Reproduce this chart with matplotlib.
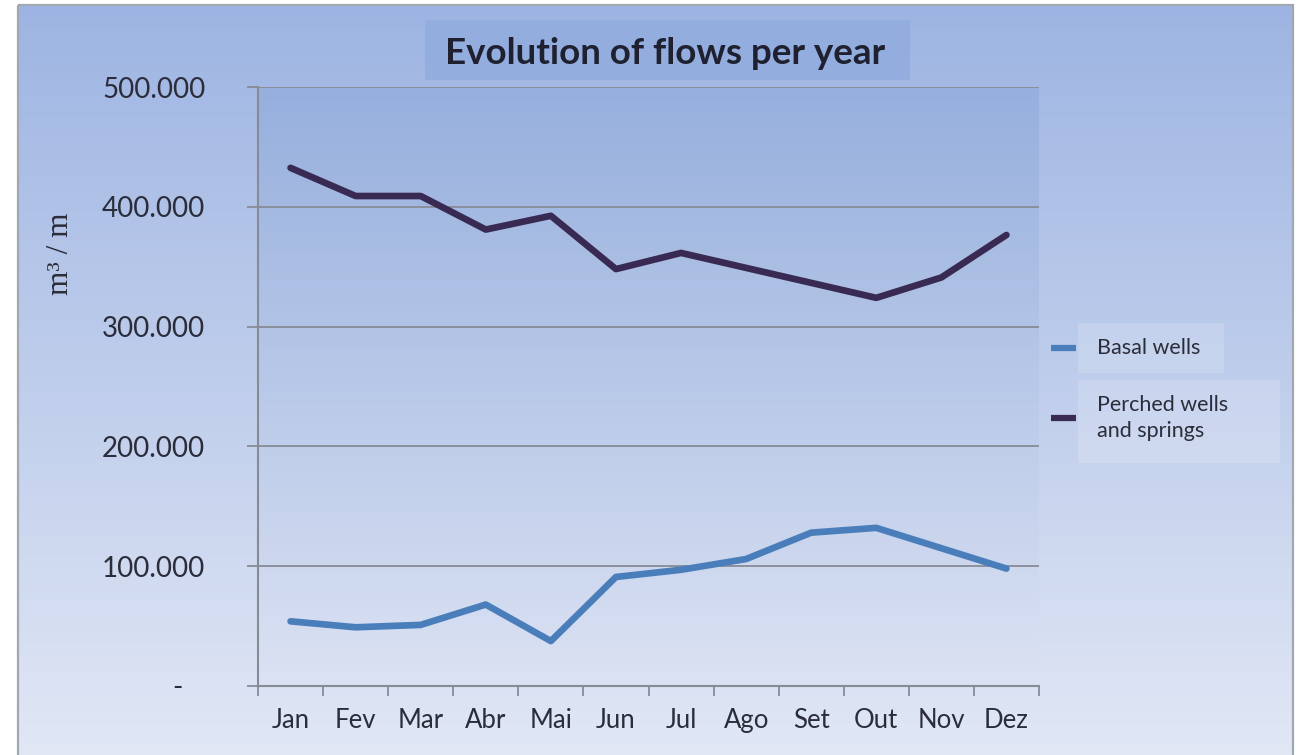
import numpy as np
import matplotlib.pyplot as plt
from matplotlib.patches import Rectangle
from matplotlib.lines import Line2D
from matplotlib.colors import to_rgb

# Monthly flows (m3 per month)
months = ["Jan", "Fev", "Mar", "Abr", "Mai", "Jun", "Jul", "Ago", "Set", "Out", "Nov", "Dez"]
basal = [54000, 49000, 51000, 68000, 37500, 91000, 97000, 106000, 128000, 132000, 115000, 98000]
perched = [432500, 409000, 409000, 381000, 392500, 348000, 361500, 349000, 336500, 324000, 341000, 376500]
series_names = ["Basal wells", "Perched wells\nand springs"]
series_colors = ["#4a7ebb", "#382a52"]
yticks = [0, 100000, 200000, 300000, 400000, 500000]
ytick_labels = ["-   ", "100.000", "200.000", "300.000", "400.000", "500.000"]
title = "Evolution of flows per year"
ylabel = "m³ / m"

W, H = 1304, 755
plt.rcParams["font.family"] = ["Lato", "DejaVu Sans"]
text_color = "#2b2d3a"
axis_grey = "#878b96"

fig = plt.figure(figsize=(W / 100, H / 100), dpi=100)
fig.patch.set_facecolor("white")


def vgradient(top, bottom, n=256):
    t = np.linspace(0, 1, n)[:, None]
    a = np.array(to_rgb(top))
    b = np.array(to_rgb(bottom))
    return (a * (1 - t) + b * t)[:, None, :]


# Chart area background in pixel coordinates
bg = fig.add_axes([0, 0, 1, 1], zorder=-10)
bg.axis("off")
bg.imshow(vgradient("#9db4e2", "#e1e7f5"), extent=(18, 1293, 755, 5),
          aspect="auto", interpolation="bilinear")
bg.add_patch(Rectangle((18, 5), 1275, 760, fill=False, ec="#a3a7b0", lw=1.6))
bg.add_patch(Rectangle((425, 20), 485, 60, fc="#93addf", ec="none"))
bg.text(665, 54, title, ha="center", va="center", fontsize=26.5,
        fontweight="bold", color="#1f2130")
bg.text(60, 254, ylabel, rotation=90, ha="center", va="center", fontsize=22.5,
        family=["Liberation Serif", "DejaVu Serif"], color=text_color)

# Legend
legend_boxes = [(1078, 323, 146, 50), (1078, 380, 202, 83)]
legend_y = [348, 418]
for name, color, box, ly in zip(series_names, series_colors, legend_boxes, legend_y):
    bg.add_patch(Rectangle(box[:2], box[2], box[3], fc="white", alpha=0.16, ec="none"))
    bg.add_line(Line2D([1051, 1076], [ly, ly], color=color, lw=4.5, solid_capstyle="butt"))
    bg.text(1097, ly, name, ha="left", va="center", fontsize=15.5,
            color=text_color, linespacing=1.32)
bg.set_xlim(0, W)
bg.set_ylim(H, 0)

# Plot area
ax = fig.add_axes([258 / W, 1 - 686 / H, (1039 - 258) / W, (686 - 87) / H])
ax.set_facecolor("none")
ax.imshow(vgradient("#96afdd", "#dbe2f3"), extent=(0, 1, 0, 1), transform=ax.transAxes,
          aspect="auto", interpolation="bilinear", zorder=0)

x = np.arange(len(months))
for vals, color in zip([basal, perched], series_colors):
    ax.plot(x, vals, color=color, lw=4.8, solid_joinstyle="round",
            solid_capstyle="round", zorder=3)

ax.set_xlim(-0.5, len(months) - 0.5)
ax.set_ylim(0, 500000)

ax.set_yticks(yticks)
ax.set_yticklabels(ytick_labels)
ax.yaxis.grid(True, color=axis_grey, lw=1.3, zorder=1)
ax.set_axisbelow(True)
ax.tick_params(axis="y", length=8, width=1.3, color=axis_grey, pad=30,
               labelsize=20, labelcolor=text_color)

ax.set_xticks(np.arange(-0.5, len(months), 1.0))
ax.set_xticklabels([])
ax.set_xticks(x, minor=True)
ax.set_xticklabels(months, minor=True)
ax.tick_params(axis="x", which="major", length=7, width=1.3, color=axis_grey)
ax.tick_params(axis="x", which="minor", length=0, pad=16, labelsize=18.5,
               labelcolor=text_color)

for side in ["top", "right"]:
    ax.spines[side].set_visible(False)
for side in ["left", "bottom"]:
    ax.spines[side].set_color(axis_grey)
    ax.spines[side].set_linewidth(1.5)

fig.savefig("out.png", dpi=100)
